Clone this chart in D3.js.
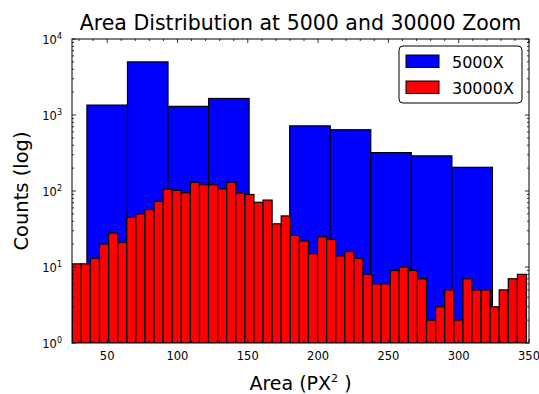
<!DOCTYPE html>
<html>
<head>
<meta charset="utf-8">
<script src="https://cdn.jsdelivr.net/npm/d3@7"></script>
<style>
  html, body { margin: 0; padding: 0; background: #fff; }
  svg text { font-family: "DejaVu Sans", sans-serif; fill: #000; }
</style>
</head>
<body>
<div id="chart"></div>
<script>
// histogram bin ranges (data units) and counts
const blueRange = [35.6, 324];
const blueCounts = [1350, 5000, 1300, 1650, 0, 720, 640, 320, 290, 205];

const redRange = [25.2, 348.2];
const redCounts = [
  11, 11, 13, 20, 28, 21, 45, 50, 57, 73,
  106, 102, 95, 130, 121, 121, 107, 130, 94, 90,
  71, 76, 37, 47, 26, 22, 15, 25, 23, 14,
  16, 13, 8, 6, 6, 9, 10, 9, 7, 2,
  3, 5, 2, 7, 5, 5, 3, 5, 7, 8
];

const xTicks = [50, 100, 150, 200, 250, 300, 350];
const yTicks = [1, 10, 100, 1000, 10000];
const legendItems = ["5000X", "30000X"];
const colors = { "5000X": "#0000ff", "30000X": "#ff0000" };

const width = 539, height = 394;
const margin = { top: 39, right: 10, bottom: 51, left: 72 };
const plotW = width - margin.left - margin.right;
const plotH = height - margin.top - margin.bottom;

const svg = d3.select("#chart").append("svg")
    .attr("width", width)
    .attr("height", height);

const x = d3.scaleLinear().domain([25, 350]).range([0, plotW]);
const y = d3.scaleLog().domain([1, 1e4]).range([plotH, 0]);

const g = svg.append("g")
    .attr("transform", `translate(${margin.left},${margin.top})`);

g.append("clipPath").attr("id", "clip")
  .append("rect").attr("width", plotW).attr("height", plotH);

// turn counts into bins with equal width over the range
function makeBins(range, counts) {
    const w = (range[1] - range[0]) / counts.length;
    return counts.map((c, i) => ({ x0: range[0] + i * w, x1: range[0] + (i + 1) * w, n: c }));
}

const bars = g.append("g").attr("clip-path", "url(#clip)");

function drawHist(bins, color) {
    bars.append("g").selectAll("rect")
      .data(bins.filter(d => d.n > 0))
      .join("rect")
        .attr("x", d => x(d.x0))
        .attr("width", d => x(d.x1) - x(d.x0))
        .attr("y", d => y(d.n))
        .attr("height", d => plotH - y(d.n))
        .attr("fill", color)
        .attr("stroke", "#000")
        .attr("stroke-width", 1.2);
}

drawHist(makeBins(blueRange, blueCounts), colors["5000X"]);
drawHist(makeBins(redRange, redCounts), colors["30000X"]);

// frame
g.append("rect")
    .attr("width", plotW).attr("height", plotH)
    .attr("fill", "none").attr("stroke", "#000").attr("stroke-width", 1);

// ticks pointing inwards on all four sides
const ticks = g.append("g").attr("stroke", "#000").attr("stroke-width", 0.8);
const xMinor = d3.range(30, 351, 10).filter(v => v % 50 !== 0);

xTicks.forEach(v => {
    ticks.append("line").attr("x1", x(v)).attr("x2", x(v)).attr("y1", plotH).attr("y2", plotH - 4);
    ticks.append("line").attr("x1", x(v)).attr("x2", x(v)).attr("y1", 0).attr("y2", 4);
});
xMinor.forEach(v => {
    ticks.append("line").attr("x1", x(v)).attr("x2", x(v)).attr("y1", plotH).attr("y2", plotH - 2);
    ticks.append("line").attr("x1", x(v)).attr("x2", x(v)).attr("y1", 0).attr("y2", 2);
});

const yMinor = [];
[1, 10, 100, 1000].forEach(d => d3.range(2, 10).forEach(k => yMinor.push(d * k)));

yTicks.forEach(v => {
    ticks.append("line").attr("x1", 0).attr("x2", 4).attr("y1", y(v)).attr("y2", y(v));
    ticks.append("line").attr("x1", plotW).attr("x2", plotW - 4).attr("y1", y(v)).attr("y2", y(v));
});
yMinor.forEach(v => {
    ticks.append("line").attr("x1", 0).attr("x2", 2).attr("y1", y(v)).attr("y2", y(v));
    ticks.append("line").attr("x1", plotW).attr("x2", plotW - 2).attr("y1", y(v)).attr("y2", y(v));
});

// tick labels
g.append("g").selectAll("text")
  .data(xTicks)
  .join("text")
    .attr("x", d => x(d))
    .attr("y", plotH + 17)
    .attr("text-anchor", "middle")
    .style("font-size", "11.5px")
    .text(d => d);

const yLab = g.append("g").selectAll("text")
  .data(yTicks)
  .join("text")
    .attr("x", -10)
    .attr("y", d => y(d) + 5)
    .attr("text-anchor", "end")
    .style("font-size", "11.5px");
yLab.append("tspan").text("10");
yLab.append("tspan")
    .attr("dy", -5)
    .style("font-size", "8px")
    .text(d => Math.round(Math.log10(d)));

// title and axis labels
svg.append("text")
    .attr("x", margin.left + plotW / 2)
    .attr("y", 30)
    .attr("text-anchor", "middle")
    .style("font-size", "20.5px")
    .text("Area Distribution at 5000 and 30000 Zoom");

const xl = svg.append("text")
    .attr("x", margin.left + plotW / 2)
    .attr("y", 390)
    .attr("text-anchor", "middle")
    .style("font-size", "19px");
xl.append("tspan").text("Area (PX");
xl.append("tspan").attr("dy", -8).style("font-size", "11px").text("2");
xl.append("tspan").attr("dy", 8).text(" )");

svg.append("text")
    .attr("transform", `translate(28,${margin.top + plotH / 2}) rotate(-90)`)
    .attr("text-anchor", "middle")
    .style("font-size", "19.5px")
    .text("Counts (log)");

// legend
const lg = svg.append("g").attr("transform", "translate(399,46)");
lg.append("rect")
    .attr("width", 123).attr("height", 57)
    .attr("rx", 4)
    .attr("fill", "#fff").attr("stroke", "#000").attr("stroke-width", 1);

const li = lg.selectAll(".item")
  .data(legendItems)
  .join("g")
    .attr("class", "item")
    .attr("transform", (d, i) => `translate(7,${9 + i * 26})`);
li.append("rect")
    .attr("width", 33).attr("height", 12.5)
    .attr("fill", d => colors[d])
    .attr("stroke", "#000").attr("stroke-width", 1);
li.append("text")
    .attr("x", 46)
    .attr("y", 12.5)
    .style("font-size", "16px")
    .text(d => d);
</script>
</body>
</html>
